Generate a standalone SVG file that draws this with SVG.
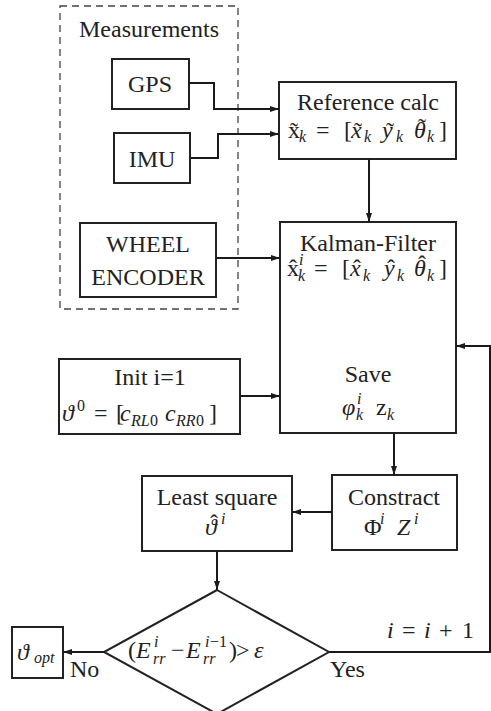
<svg xmlns="http://www.w3.org/2000/svg" width="491" height="711" viewBox="0 0 491 711" font-family="Liberation Serif, DejaVu Serif, Times New Roman, serif">
<defs>
<marker id="arr" markerUnits="userSpaceOnUse" markerWidth="10" markerHeight="8" refX="9" refY="4" orient="auto">
<path d="M0,1 L9,4 L0,7 Z" fill="#1a1a1a"/>
</marker>
<style>
text{font-size:24px;fill:#222}
.t{text-anchor:middle}
.i{font-style:italic}
.s{font-size:16px}
.box{fill:#fff;stroke:#222;stroke-width:2}
.c{fill:none;stroke:#1a1a1a;stroke-width:2}
</style>
</defs>
<rect width="491" height="711" fill="#fff"/>
<g id="measurements">
<rect x="60" y="6" width="178" height="303" fill="none" stroke="#444" stroke-width="1.3" stroke-dasharray="7,5"/>
<text class="t" x="149" y="37">Measurements</text>
</g>
<g id="gps"><rect class="box" x="112" y="59" width="77" height="50"/><text class="t" x="150" y="92">GPS</text></g>
<g id="imu"><rect class="box" x="114" y="133" width="76" height="50"/><text class="t" x="152" y="167">IMU</text></g>
<g id="wheel"><rect class="box" x="80" y="223" width="136" height="74"/><text class="t" x="148" y="252">WHEEL</text><text class="t" x="148" y="285">ENCODER</text></g>
<g id="refcalc"><rect class="box" x="279" y="82" width="177" height="77"/>
<text class="t" x="368" y="110">Reference calc</text>
<text y="138"><tspan x="288">x</tspan><tspan x="290" y="139">˜</tspan><tspan class="i s" x="299" y="142">k</tspan><tspan x="316" y="138">=</tspan><tspan x="344">[</tspan><tspan class="i" x="351">x</tspan><tspan x="354" y="139">˜</tspan><tspan class="i s" x="364" y="142">k</tspan><tspan class="i" x="382" y="138">y</tspan><tspan x="386" y="139">˜</tspan><tspan class="i s" x="396" y="142">k</tspan><tspan class="i" x="414" y="138">θ</tspan><tspan x="418" y="135">˜</tspan><tspan class="i s" x="427" y="142">k</tspan><tspan x="439" y="138">]</tspan></text>
</g>
<g id="kalman"><rect class="box" x="280" y="222" width="176" height="211"/>
<text class="t" x="368" y="251">Kalman-Filter</text>
<text y="276"><tspan x="287">x</tspan><tspan x="289" y="276">ˆ</tspan><tspan class="i s" x="299" y="265">i</tspan><tspan class="i s" x="298" y="281">k</tspan><tspan x="314" y="276">=</tspan><tspan x="342">[</tspan><tspan class="i" x="350">x</tspan><tspan x="353">ˆ</tspan><tspan class="i s" x="363" y="281">k</tspan><tspan class="i" x="384" y="276">y</tspan><tspan x="387">ˆ</tspan><tspan class="i s" x="397" y="281">k</tspan><tspan class="i" x="414" y="276">θ</tspan><tspan x="418" y="272">ˆ</tspan><tspan class="i s" x="427" y="281">k</tspan><tspan x="439" y="276">]</tspan></text>
<text class="t" x="368" y="382">Save</text>
<text y="415"><tspan class="i" x="342">φ</tspan><tspan class="i s" x="357" y="404">i</tspan><tspan class="i s" x="356" y="420">k</tspan><tspan x="376" y="415">z</tspan><tspan class="i s" x="387" y="420">k</tspan></text>
</g>
<g id="init"><rect class="box" x="59" y="359" width="181" height="75"/>
<text class="t" x="150" y="385">Init i=1</text>
<text y="421"><tspan class="i" x="62">ϑ</tspan><tspan class="s" x="77" y="411">0</tspan><tspan x="94" y="421">=</tspan><tspan x="116">[</tspan><tspan class="i" x="120">c</tspan><tspan class="i s" x="131" y="426">RL</tspan><tspan class="s" x="150">0</tspan><tspan class="i" x="165" y="421">c</tspan><tspan class="i s" x="176" y="426">RR</tspan><tspan class="s" x="196">0</tspan><tspan x="209" y="421">]</tspan></text>
</g>
<g id="least"><rect class="box" x="142" y="476" width="150" height="75"/>
<text class="t" x="217" y="505">Least square</text>
<text y="535"><tspan class="i" x="205">ϑ</tspan><tspan x="210" y="531">ˆ</tspan><tspan class="i s" x="221" y="524">i</tspan></text>
</g>
<g id="constract"><rect class="box" x="332" y="475" width="125" height="75"/>
<text class="t" x="394" y="505">Constract</text>
<text y="535"><tspan x="364">Φ</tspan><tspan class="i s" x="380" y="524">i</tspan><tspan class="i" x="397" y="535">Z</tspan><tspan class="i s" x="414" y="524">i</tspan></text>
</g>
<g id="decision"><path d="M217,590 L329,652 L217,714 L104,652 Z" fill="#fff" stroke="#222" stroke-width="2"/>
<text y="658"><tspan x="128">(</tspan><tspan class="i" x="136">E</tspan><tspan class="i s" x="154" y="647">i</tspan><tspan class="i s" x="153" y="664">rr</tspan><tspan x="171" y="658">−</tspan><tspan class="i" x="186">E</tspan><tspan class="i s" x="205" y="647">i</tspan><tspan class="s" x="210" y="647">−1</tspan><tspan class="i s" x="203" y="664">rr</tspan><tspan x="229" y="658">)</tspan><tspan x="236">&gt;</tspan><tspan class="i" x="254">ε</tspan></text>
</g>
<g id="opt"><rect class="box" x="12" y="627" width="51" height="51"/>
<text y="660"><tspan class="i" x="17">ϑ</tspan><tspan class="i s" x="34" y="663">opt</tspan></text>
</g>
<g id="labels">
<text x="70" y="677">No</text>
<text x="330" y="677">Yes</text>
<text y="638"><tspan class="i" x="387">i</tspan><tspan x="402">=</tspan><tspan class="i" x="424">i</tspan><tspan x="439">+</tspan><tspan x="462">1</tspan></text>
</g>
<g id="connectors">
<path class="c" d="M189,83 H214 V109 H279" marker-end="url(#arr)"/>
<path class="c" d="M190,158 H218 V134 H279" marker-end="url(#arr)"/>
<path class="c" d="M369,159 V222" marker-end="url(#arr)"/>
<path class="c" d="M216,258 H280" marker-end="url(#arr)"/>
<path class="c" d="M240,396 H280" marker-end="url(#arr)"/>
<path class="c" d="M394,433 V475" marker-end="url(#arr)"/>
<path class="c" d="M332,512 H292" marker-end="url(#arr)"/>
<path class="c" d="M217,551 V590" marker-end="url(#arr)"/>
<path class="c" d="M104,652 H63" marker-end="url(#arr)"/>
<path class="c" d="M329,652 H490 V346 H456" marker-end="url(#arr)"/>
</g>
</svg>
